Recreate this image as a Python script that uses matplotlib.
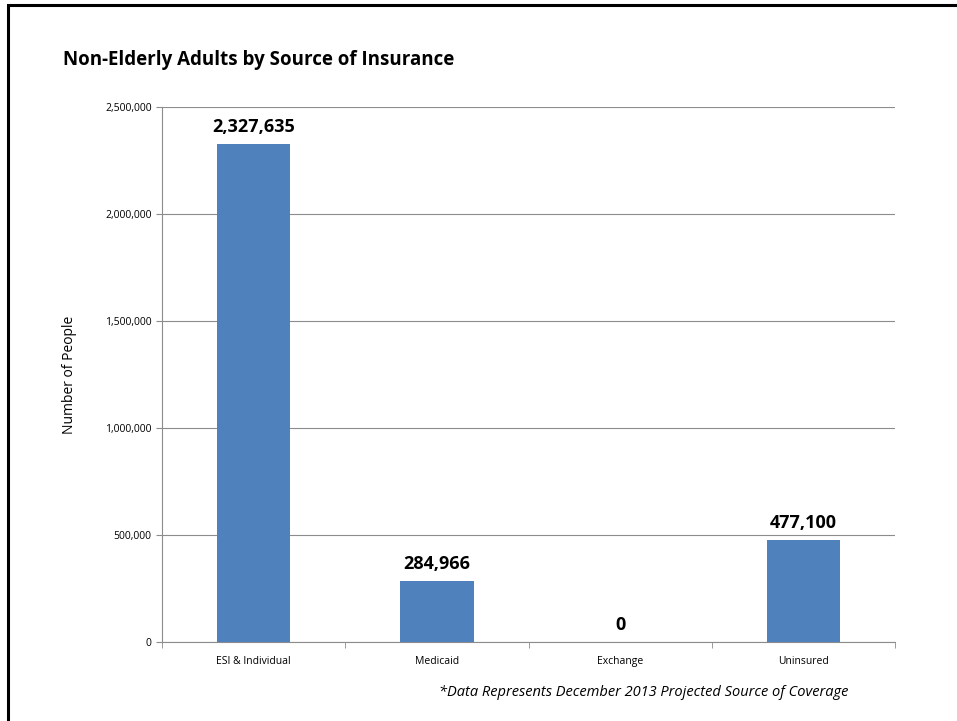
import matplotlib.pyplot as plt
from matplotlib.patches import Rectangle
from matplotlib.ticker import FuncFormatter, FixedLocator

plt.rcParams["font.family"] = ["Open Sans", "DejaVu Sans"]

# data
categories = ["ESI & Individual", "Medicaid", "Exchange", "Uninsured"]
people = [2327635, 284966, 0, 477100]

BAR_COLOR = "#4F81BD"
GRID_COLOR = "#8C8C8C"

fig = plt.figure(figsize=(9.57, 7.21), dpi=100)
ax = fig.add_axes([162 / 957, 1 - 642 / 721, (895 - 162) / 957, (642 - 107) / 721])

x = range(len(categories))
ax.bar(x, people, width=0.4, color=BAR_COLOR, zorder=3)

for xi, v in zip(x, people):
    ax.annotate(f"{v:,}", (xi, v), xytext=(0, 6), textcoords="offset points",
                ha="center", va="bottom", fontsize=13, fontweight="bold")

ax.set_xlim(-0.5, len(categories) - 0.5)
ax.set_ylim(0, 2500000)
ax.set_yticks(range(0, 2500001, 500000))
ax.yaxis.set_major_formatter(FuncFormatter(lambda v, p: f"{int(v):,}"))
ax.grid(axis="y", color=GRID_COLOR, linewidth=0.8, zorder=0)

ax.set_xticks(list(x))
ax.set_xticklabels(categories, fontsize=7.5)
ax.xaxis.set_minor_locator(FixedLocator([i - 0.5 for i in range(len(categories) + 1)]))
ax.tick_params(axis="x", which="major", length=0, pad=10)
ax.tick_params(axis="x", which="minor", length=4, color=GRID_COLOR)
ax.tick_params(axis="y", labelsize=7.5, length=4, color=GRID_COLOR)

for s in ["top", "right"]:
    ax.spines[s].set_visible(False)
for s in ["left", "bottom"]:
    ax.spines[s].set_color(GRID_COLOR)
    ax.spines[s].set_linewidth(0.8)

ax.set_ylabel("Number of People", fontsize=10, labelpad=20)

fig.text(63 / 957, 1 - 60 / 721, "Non-Elderly Adults by Source of Insurance",
         fontsize=13.5, fontweight="bold", va="center", ha="left")
fig.text(848 / 957, 1 - 693 / 721,
         "*Data Represents December 2013 Projected Source of Coverage",
         fontsize=10.5, style="italic", ha="right", va="center")

# frame around the chart
fig.add_artist(Rectangle((8 / 957, -0.1), 1.2, 1 - 5 / 721 + 0.1,
                         transform=fig.transFigure, fill=False,
                         edgecolor="black", linewidth=2.2))

fig.savefig("out.png", dpi=100)
